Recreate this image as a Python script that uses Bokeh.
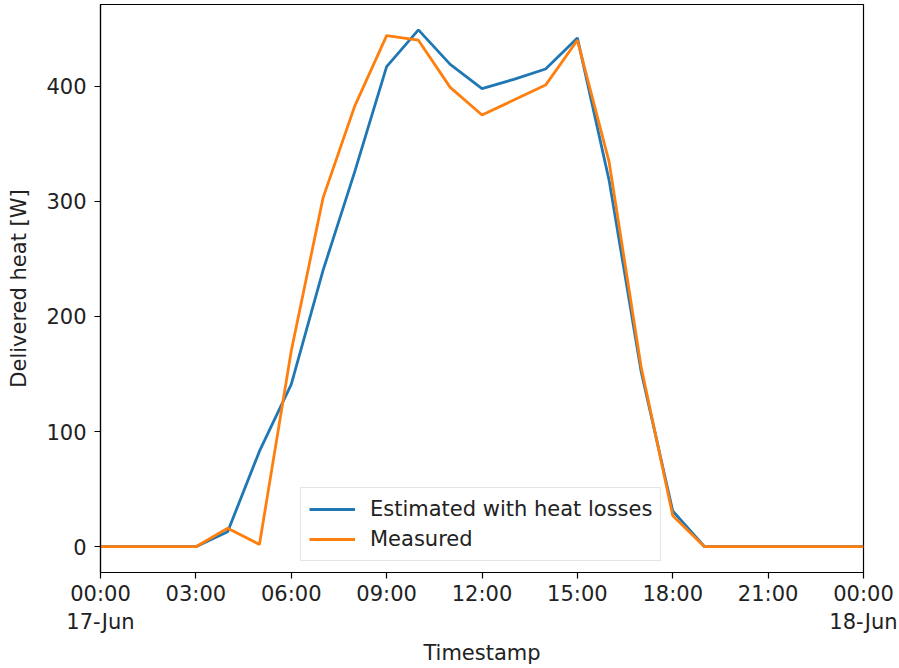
from bokeh.plotting import figure
from bokeh.models import FixedTicker, Range1d
from bokeh.embed import file_html
from bokeh.resources import INLINE

hours = list(range(25))
estimated = [0, 0, 0, 0, 13, 83, 141, 240, 326, 417, 449, 419, 398, 406, 415, 442,
             318, 153, 31, 0, 0, 0, 0, 0, 0]
measured = [0, 0, 0, 0, 16, 2, 170, 303, 383, 444, 440, 399, 375, 388, 401, 440,
            334, 157, 27, 0, 0, 0, 0, 0, 0]
x_ticks = [0, 3, 6, 9, 12, 15, 18, 21, 24]
x_tick_labels = ["00:00\n17-Jun", "03:00", "06:00", "09:00", "12:00", "15:00",
                 "18:00", "21:00", "00:00\n18-Jun"]
y_ticks = [0, 100, 200, 300, 400]

FONT = "DejaVu Sans"
FS = "21px"

p = figure(width=899, height=668, output_backend="svg", toolbar_location=None,
           x_range=Range1d(0, 24), y_range=Range1d(-22.4, 471),
           min_border_left=100, min_border_right=36, min_border_top=4,
           min_border_bottom=95)

p.line(hours, estimated, line_color="#1f77b4", line_width=2.8,
       legend_label="Estimated with heat losses")
p.line(hours, measured, line_color="#ff7f0e", line_width=2.8,
       legend_label="Measured")

p.grid.visible = False
p.outline_line_color = "black"
p.outline_line_width = 1.2

p.xaxis.ticker = FixedTicker(ticks=x_ticks)
p.xaxis.major_label_overrides = {t: l for t, l in zip(x_ticks, x_tick_labels)}
p.yaxis.ticker = FixedTicker(ticks=y_ticks)

for ax in (p.xaxis, p.yaxis):
    ax.axis_line_color = "black"
    ax.axis_line_width = 1.2
    ax.major_tick_line_color = "black"
    ax.major_tick_line_width = 1.2
    ax.major_tick_out = 6
    ax.major_tick_in = 0
    ax.minor_tick_line_color = None
    ax.major_label_text_font = FONT
    ax.major_label_text_font_size = FS
    ax.major_label_text_color = "#222222"
    ax.axis_label_text_font = FONT
    ax.axis_label_text_font_size = FS
    ax.axis_label_text_font_style = "normal"
    ax.axis_label_text_color = "#222222"

p.xaxis.axis_label = "Timestamp"
p.yaxis.axis_label = "Delivered heat [W]"
p.xaxis.major_label_standoff = 3
p.xaxis.axis_label_standoff = 4
p.yaxis.major_label_standoff = 8
p.yaxis.axis_label_standoff = 12

lg = p.legend[0]
lg.location = (200, 11)
lg.label_text_font = FONT
lg.label_text_font_size = FS
lg.label_text_color = "#222222"
lg.border_line_color = "#cccccc"
lg.border_line_width = 1.2
lg.background_fill_alpha = 0.8
lg.margin = 0
lg.padding = 8
lg.spacing = 4
lg.label_height = 26
lg.glyph_height = 26
lg.glyph_width = 46
lg.label_standoff = 15

open("out.html", "w").write(file_html(p, INLINE))
